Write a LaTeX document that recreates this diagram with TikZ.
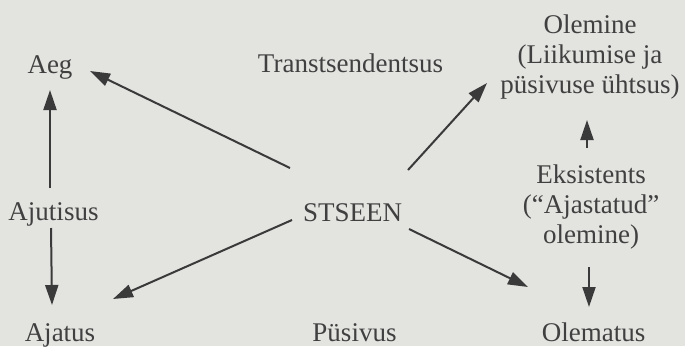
\documentclass[tikz,border=0pt]{standalone}
\usepackage{fontspec}
\setmainfont{Liberation Serif}
\usetikzlibrary{arrows.meta}
\definecolor{bg}{HTML}{E3E3E0}
\definecolor{ink}{HTML}{404040}
\definecolor{arrowink}{HTML}{3A3A3A}
\tikzset{
  lbl/.style={anchor=base, inner sep=0pt, outer sep=0pt, text=ink, align=center,
    font=\fontsize{27}{30}\selectfont},
  arr/.style={draw=arrowink, line width=2pt, -{Triangle[length=20pt,width=13pt]}}
}
\begin{document}
\begin{tikzpicture}[x=1pt,y=-1pt]
\useasboundingbox (0,0) rectangle (685,346);
\path[fill=bg] (0,0) rectangle (685,346);
\node[lbl] (aeg) at (50,73) {Aeg};
\node[lbl] (trans) at (350.5,72) {Transtsendentsus};
\node[lbl] (olemine) at (590,93) {Olemine\\(Liikumise ja\\püsivuse ühtsus)};
\node[lbl] (ajutisus) at (53.5,220) {Ajutisus};
\node[lbl] (stseen) at (352.5,221) {STSEEN};
\node[lbl] (eksistents) at (591,243) {Eksistents\\(“Ajastatud”\\olemine)};
\node[lbl] (ajatus) at (60,341) {Ajatus};
\node[lbl] (pusivus) at (354.5,341) {Püsivus};
\node[lbl] (olematus) at (593.5,341) {Olematus};
% connectors
\draw[arr] ([shift={(-3.5,-32)}]ajutisus.base) -- ([shift={(0,17)}]aeg.base);
\draw[arr] ([shift={(-2.5,8)}]ajutisus.base) -- ([shift={(-8,-36)}]ajatus.base);
\draw[arr] ([shift={(-62.5,-53)}]stseen.base) -- ([shift={(40,-2)}]aeg.base);
\draw[arr] ([shift={(-60.5,-1)}]stseen.base) -- ([shift={(53,-42)}]ajatus.base);
\draw[arr] ([shift={(55.5,-51)}]stseen.base) -- ([shift={(-103,-10)}]olemine.base);
\draw[arr] ([shift={(56.5,8)}]stseen.base) -- ([shift={(-65.5,-54)}]olematus.base);
\draw[arr] ([shift={(-4,-95)}]eksistents.base) -- ([shift={(-3,27)}]olemine.base);
\draw[arr] ([shift={(-2,24)}]eksistents.base) -- ([shift={(-4.5,-34)}]olematus.base);
\end{tikzpicture}
\end{document}
